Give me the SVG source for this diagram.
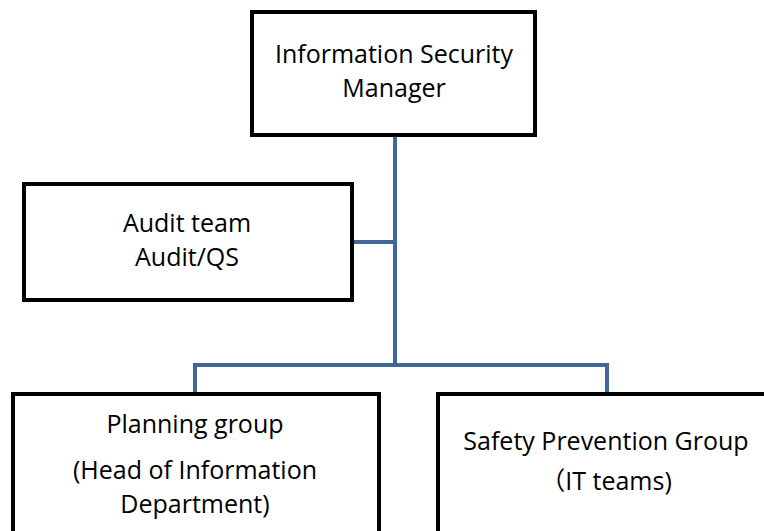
<svg xmlns="http://www.w3.org/2000/svg" width="764" height="531" viewBox="0 0 764 531">
<style>
.box{fill:#fff;stroke:#000;stroke-width:4}
.lbl{font-family:"Open Sans","Noto Sans CJK SC",sans-serif;font-size:25px;fill:#000;text-anchor:middle}
.cjk{font-family:"Noto Sans CJK SC",sans-serif}
.con{fill:none;stroke:#41679a;stroke-width:4}
</style>
<rect width="764" height="531" fill="#fff"/>
<g id="connectors">
<path class="con" d="M395 135V365M353 242H395M195 395V365H607V395"/>
</g>
<g id="manager">
<rect class="box" x="252" y="12" width="283" height="123"/>
<text class="lbl" x="394" y="63">Information Security</text>
<text class="lbl" x="394" y="97">Manager</text>
</g>
<g id="audit">
<rect class="box" x="24" y="184" width="328" height="116"/>
<text class="lbl" x="187" y="232">Audit team</text>
<text class="lbl" x="187" y="266">Audit/QS</text>
</g>
<g id="planning">
<rect class="box" x="13" y="394" width="366" height="160"/>
<text class="lbl" x="195" y="433">Planning group</text>
<text class="lbl" x="195" y="479">(Head of Information</text>
<text class="lbl" x="195" y="513">Department)</text>
</g>
<g id="safety">
<rect class="box" x="438" y="394" width="360" height="160"/>
<text class="lbl" x="606" y="450">Safety Prevention Group</text>
<text class="lbl" x="606" y="490"><tspan class="cjk">（</tspan>IT teams)</text>
</g>
</svg>
